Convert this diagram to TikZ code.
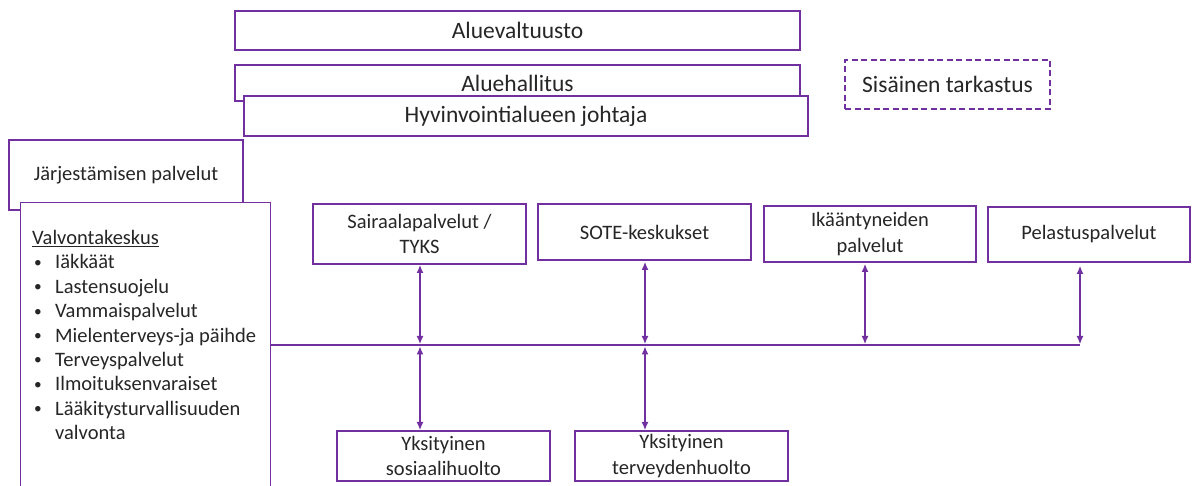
\documentclass[tikz,border=0pt]{standalone}
\usepackage{fontspec}
\setmainfont{Carlito}
\usetikzlibrary{arrows.meta}
\definecolor{purp}{RGB}{112,48,160}
\definecolor{txt}{RGB}{38,38,38}
\newcommand{\mybul}{\makebox[23pt][l]{\hspace{2pt}\raisebox{1.5pt}{\scalebox{0.75}{\textbullet}}}}
\tikzset{
  box/.style={draw=purp, line width=1.2pt, fill=white, text=txt, align=center, inner sep=2pt},
  bigt/.style={font=\fontsize{23.5}{27}\selectfont},
  midt/.style={font=\fontsize{20.5}{25.5}\selectfont},
  conn/.style={draw=purp, line width=1.2pt},
  dbl/.style={conn, {Latex[length=8pt,width=7pt]}-{Latex[length=8pt,width=7pt]}}
}
\begin{document}
\begin{tikzpicture}[x=1pt,y=-1pt]
\useasboundingbox (0,0) rectangle (1195,486);
\clip (0,0) rectangle (1195,486);
% top
\node[box,bigt,minimum width=565pt,minimum height=39pt] (valt) at (517.5,30.5) {Aluevaltuusto};
\node[box,bigt,minimum width=565pt,minimum height=36pt] (hall) at (517.5,83) {Aluehallitus};
\node[box,bigt,minimum width=564pt,minimum height=40pt] (joht) at (526,116) {Hyvinvointialueen johtaja};
\node[box,bigt,dash pattern=on 6pt off 3.5pt,minimum width=205pt,minimum height=49pt] (sis) at (947.5,84.5) {Sisäinen tarkastus};
% left
\node[box,midt,minimum width=234pt,minimum height=70pt] (jarj) at (126,175) {Järjestämisen palvelut};
\node[box,midt,minimum width=250pt,minimum height=298pt,anchor=north west] (valv) at (20,202) {};
\node[text=txt,anchor=north west,align=left,inner sep=0pt,font=\fontsize{20.5}{24.4}\selectfont] (valvt) at (32,230) {%
\underline{Valvontakeskus}\\
\mybul Iäkkäät\\
\mybul Lastensuojelu\\
\mybul Vammaispalvelut\\
\mybul Mielenterveys-ja päihde\\
\mybul Terveyspalvelut\\
\mybul Ilmoituksenvaraiset\\
\mybul Lääkitysturvallisuuden\\
\hspace*{23pt}valvonta};
% services
\node[box,midt,minimum width=213pt,minimum height=60pt] (sair) at (419.5,234) {Sairaalapalvelut /\\TYKS};
\node[box,midt,minimum width=213pt,minimum height=56pt] (sote) at (644.5,232) {SOTE-keskukset};
\node[box,midt,minimum width=212pt,minimum height=56pt] (ika) at (870,234) {Ikääntyneiden\\palvelut};
\node[box,midt,minimum width=202pt,minimum height=55pt] (pel) at (1089,234.5) {Pelastuspalvelut};
\node[box,midt,minimum width=213pt,minimum height=50pt] (yks1) at (443.5,456) {Yksityinen\\sosiaalihuolto};
\node[box,midt,minimum width=213pt,minimum height=50pt] (yks2) at (681.5,456) {Yksityinen\\terveydenhuolto};
% bus
\coordinate (hl) at (valv.east |- 0,345);
\coordinate (hr) at (1080,345);
\draw[conn] (hl) -- (hr);
\coordinate (a1t) at (420,265); \coordinate (a1b) at (420,344);
\coordinate (a2t) at (645,262); \coordinate (a2b) at (645,344);
\coordinate (a3t) at (865,264); \coordinate (a3b) at (865,344);
\coordinate (a4t) at (1080,266); \coordinate (a4b) at (1080,344);
\coordinate (b1t) at (420,346.5); \coordinate (b1b) at (420,430);
\coordinate (b2t) at (645,346.5); \coordinate (b2b) at (645,430);
\draw[dbl] (a1t) -- (a1b);
\draw[dbl] (a2t) -- (a2b);
\draw[dbl] (a3t) -- (a3b);
\draw[dbl] (a4t) -- (a4b);
\draw[dbl] (b1t) -- (b1b);
\draw[dbl] (b2t) -- (b2b);
\end{tikzpicture}
\end{document}
